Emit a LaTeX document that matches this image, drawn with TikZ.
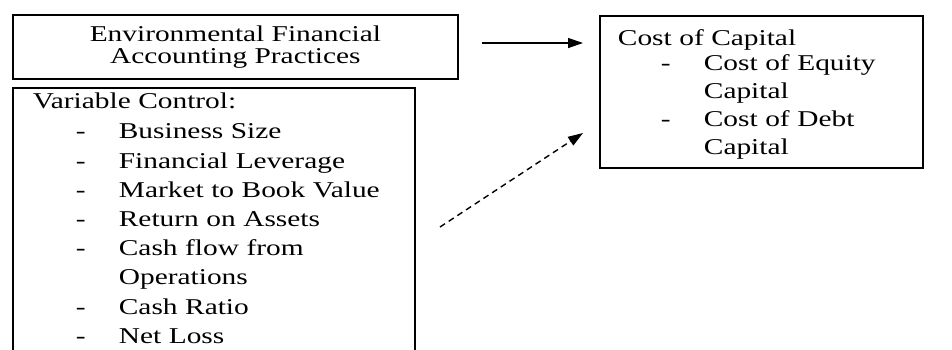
\documentclass[tikz,border=0pt]{standalone}
\usepackage{fontspec}
\setmainfont[FakeStretch=1.3]{Liberation Serif}
\usetikzlibrary{arrows.meta}
% dash item in the lists
\newcommand\dashitem[1]{\hspace*{21.5pt}\makebox[21.5pt][l]{-}#1}
\newcommand\contitem[1]{\hspace*{43pt}#1}
\tikzset{
  box/.style={draw,line width=0.9pt,anchor=north west,inner ysep=0pt,
    font=\fontsize{11.3}{14.6}\selectfont},
  flow/.style={line width=0.7pt,-{Triangle[length=7.5pt,width=5pt]}}
}
\begin{document}
\begin{tikzpicture}[x=0.5pt,y=-0.5pt]
            \useasboundingbox (0,0) rectangle (952,349);
            \clip (0,0) rectangle (952,349);
            % Boxes
            \node[box,minimum width=222.5pt,minimum height=32pt,align=center,
                font=\fontsize{11.3}{11}\selectfont] (efap) at (12,14)
                {Environmental Financial\\Accounting Practices};
            \node[box,text width=181pt,inner xsep=10pt,align=left] (control) at (12,87)
                {\rule{0pt}{10.5pt}Variable Control:\\[0.4pt]
                \dashitem{Business Size}\\
                \dashitem{Financial Leverage}\\
                \dashitem{Market to Book Value}\\
                \dashitem{Return on Assets}\\
                \dashitem{Cash flow from}\\
                \contitem{Operations}\\
                \dashitem{Cash Ratio}\\
                \dashitem{Net Loss}\rule[-12pt]{0pt}{0pt}};
            \node[box,text width=143.5pt,inner xsep=9pt,minimum height=76pt,
                align=left,font=\fontsize{11.3}{14}\selectfont] (cost) at (599,15)
                {\rule{0pt}{10.5pt}Cost of Capital\\[-1.5pt]
                \dashitem{Cost of Equity}\\
                \contitem{Capital}\\
                \dashitem{Cost of Debt}\\
                \contitem{Capital}};
            % Arrows
            \coordinate (efapout) at (482,43);
            \coordinate (costin) at (583,43);
            \coordinate (controlout) at (440,227);
            \coordinate (costin2) at (583,133);
            \draw[flow] (efapout) -- (costin);
            \draw[flow,dash pattern=on 3pt off 2.2pt] (controlout) -- (costin2);
\end{tikzpicture}
\end{document}
